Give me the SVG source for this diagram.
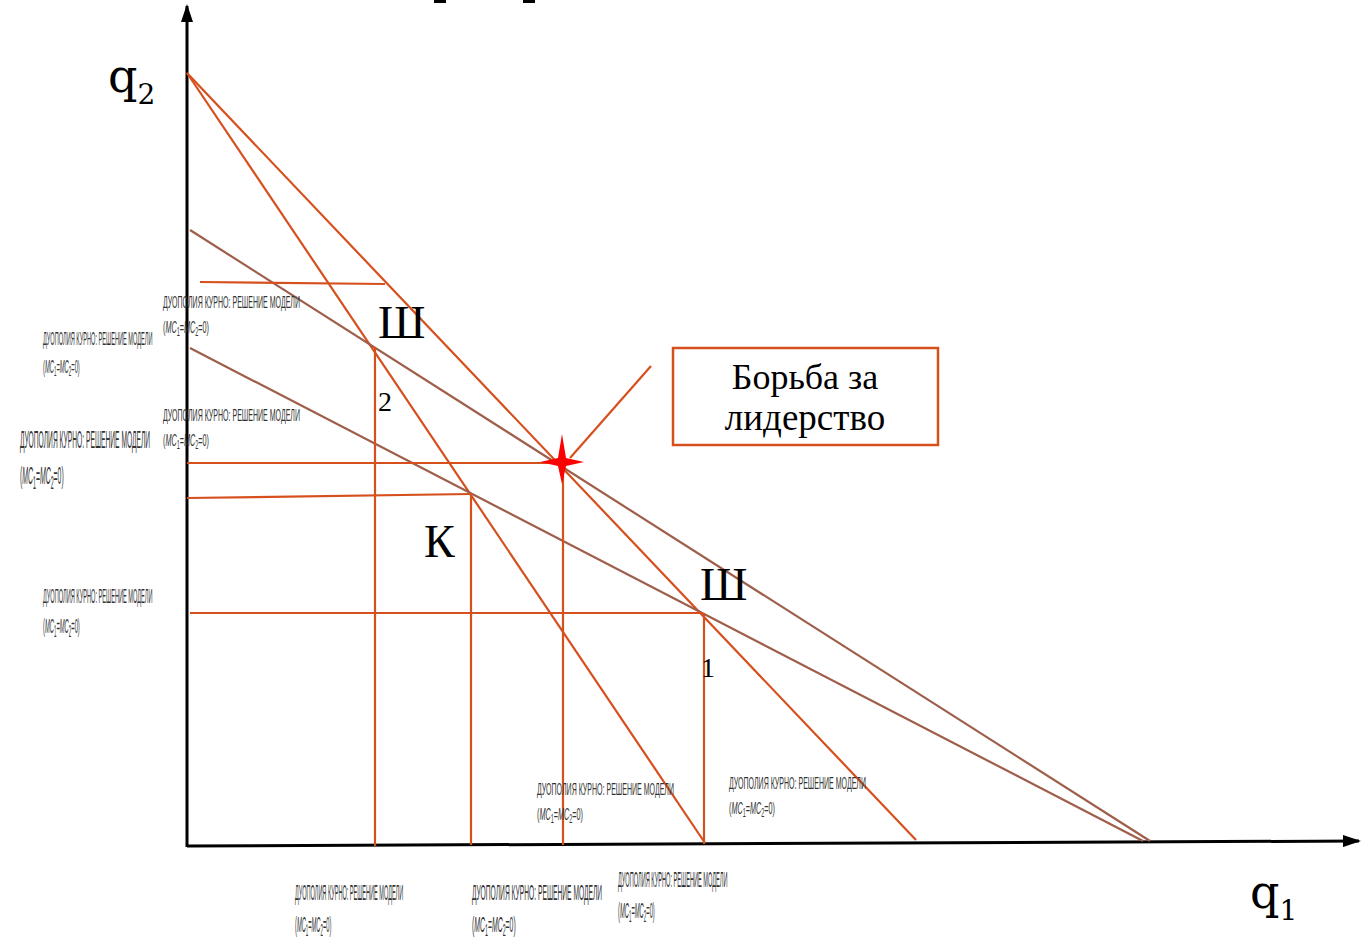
<svg xmlns="http://www.w3.org/2000/svg" xmlns:xlink="http://www.w3.org/1999/xlink" width="1361" height="937" viewBox="0 0 1361 937">
<style>
.ax{stroke:#000;stroke-width:3;fill:none}
.or{stroke:#D6501E;stroke-width:2.2;fill:none}
.br{stroke:#9E5E4A;stroke-width:2.2;fill:none}
.big{font-family:"Liberation Serif","DejaVu Serif",serif;fill:#000}
.q{font-family:"DejaVu Serif","Liberation Serif",serif;fill:#000}
.sm{font-family:"Liberation Sans","DejaVu Sans",sans-serif;font-size:17px;fill:#333}
</style>
<defs>
<marker id="arr" viewBox="0 0 18 12" refX="16" refY="6" markerWidth="18" markerHeight="12" markerUnits="userSpaceOnUse" orient="auto">
<path d="M0,0 L18,6 L0,12 z" fill="#000"/>
</marker>
<g id="lbl">
<text class="sm" x="0" y="0" textLength="137" lengthAdjust="spacingAndGlyphs">ДУОПОЛИЯ КУРНО: РЕШЕНИЕ МОДЕЛИ</text>
<text class="sm" x="0" y="25" font-size="21" textLength="46" lengthAdjust="spacingAndGlyphs">(<tspan font-style="italic">MC</tspan><tspan font-size="13" dy="3">1</tspan><tspan dy="-3">=</tspan><tspan font-style="italic">MC</tspan><tspan font-size="13" dy="3">2</tspan><tspan dy="-3">=0)</tspan></text>
</g>
</defs>
<rect x="0" y="0" width="1361" height="937" fill="#fff"/>
<rect x="434" y="0" width="12" height="3" fill="#000"/>
<rect x="523" y="0" width="12" height="3" fill="#000"/>
<g id="axes">
<line class="ax" x1="187" y1="847" x2="187" y2="6" marker-end="url(#arr)"/>
<line class="ax" x1="187" y1="846" x2="1359" y2="841" marker-end="url(#arr)"/>
</g>
<g id="connectors">
<line class="or" x1="187" y1="73" x2="705" y2="843"/>
<line class="or" x1="187" y1="73" x2="916" y2="840"/>
<line class="br" x1="190" y1="230" x2="1150" y2="841"/>
<line class="br" x1="190" y1="348" x2="1143" y2="841"/>
<line class="or" x1="200" y1="282" x2="385" y2="284"/>
<line class="or" x1="187" y1="463" x2="563" y2="463"/>
<line class="or" x1="187" y1="498" x2="471" y2="494"/>
<line class="or" x1="190" y1="613" x2="703" y2="613"/>
<line class="or" x1="375" y1="347" x2="375" y2="846"/>
<line class="or" x1="471" y1="494" x2="471" y2="845"/>
<line class="or" x1="563" y1="463" x2="563" y2="845"/>
<line class="or" x1="704" y1="613" x2="704" y2="844"/>
<line class="or" x1="651" y1="366" x2="570" y2="458"/>
</g>
<g id="star">
<path d="M562,434 L566,458 L584,462 L566,466 L562,484 L558,466 L540,462 L558,458 Z" fill="#FF0000"/>
</g>
<g id="box">
<rect x="673" y="348" width="265" height="97" fill="#fff" stroke="#D6501E" stroke-width="2.5"/>
<text class="big" x="805" y="389" font-size="36" text-anchor="middle">Борьба за</text>
<text class="big" x="805" y="430" font-size="37" text-anchor="middle">лидерство</text>
</g>
<g id="points">
<text class="big" x="378" y="338" font-size="47">Ш</text>
<text class="big" x="378" y="411" font-size="28">2</text>
<text class="big" x="424" y="557" font-size="46">К</text>
<text class="big" x="700" y="600" font-size="47">Ш</text>
<text class="big" x="701" y="677" font-size="28">1</text>
</g>
<g id="axis-labels">
<text class="q" x="108" y="92" font-size="46">q<tspan font-size="28" dy="12">2</tspan></text>
<text class="q" x="1250" y="908" font-size="46">q<tspan font-size="28" dy="12">1</tspan></text>
</g>
<g id="labels">
<use xlink:href="#lbl" transform="translate(163,308)"/>
<use xlink:href="#lbl" transform="translate(43,345) scale(0.8,1.12)"/>
<use xlink:href="#lbl" transform="translate(163,421)"/>
<use xlink:href="#lbl" transform="translate(20,448) scale(0.95,1.45)"/>
<use xlink:href="#lbl" transform="translate(43,603) scale(0.8,1.2)"/>
<use xlink:href="#lbl" transform="translate(537,795)"/>
<use xlink:href="#lbl" transform="translate(729,789)"/>
<use xlink:href="#lbl" transform="translate(295,900) scale(0.79,1.3)"/>
<use xlink:href="#lbl" transform="translate(472,900) scale(0.95,1.3)"/>
<use xlink:href="#lbl" transform="translate(618,887) scale(0.8,1.25)"/>
</g>
</svg>
